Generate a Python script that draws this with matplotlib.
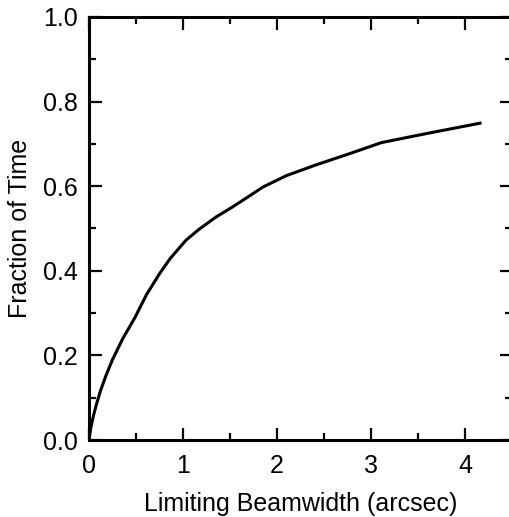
import matplotlib
matplotlib.use("Agg")
import matplotlib.pyplot as plt
from matplotlib.ticker import MultipleLocator

# values
beamwidth = [0.0, 0.02, 0.05, 0.08, 0.12, 0.18, 0.25, 0.36, 0.49, 0.61, 0.75, 0.86, 1.03,
             1.17, 1.35, 1.52, 1.68, 1.85, 2.1, 2.41, 2.76, 3.11, 3.58, 4.16]
fraction = [0.0, 0.03, 0.06, 0.085, 0.115, 0.152, 0.19, 0.24, 0.29, 0.343, 0.393, 0.428, 0.472,
            0.498, 0.527, 0.55, 0.573, 0.598, 0.625, 0.65, 0.676, 0.703, 0.724, 0.749]

plt.rcParams['font.family'] = ['Liberation Sans', 'DejaVu Sans']

fig = plt.figure(figsize=(5.09, 5.17), dpi=100)
ax = fig.add_axes([89 / 509, 77 / 517, 423 / 509, 423 / 517])

ax.plot(beamwidth, fraction, color='black', linewidth=2.2, solid_joinstyle='round')

ax.set_xlim(0, 4.5)
ax.set_ylim(0, 1.0)
ax.xaxis.set_major_locator(MultipleLocator(1))
ax.xaxis.set_minor_locator(MultipleLocator(0.5))
ax.yaxis.set_major_locator(MultipleLocator(0.2))
ax.yaxis.set_minor_locator(MultipleLocator(0.1))
ax.yaxis.set_major_formatter(plt.FuncFormatter(lambda v, p: f'{v:.1f}'))

ax.tick_params(which='both', direction='in', top=True, right=True, width=1.6, labelsize=18)
ax.tick_params(axis='x', pad=10)
ax.tick_params(axis='y', pad=8)
ax.tick_params(which='major', length=9)
ax.tick_params(which='minor', length=5)
for s in ax.spines.values():
    s.set_linewidth(2.2)

ax.set_xlabel('Limiting Beamwidth (arcsec)', fontsize=18, labelpad=10)
ax.set_ylabel('Fraction of Time', fontsize=18, labelpad=8)

fig.savefig('out.png', dpi=100)
